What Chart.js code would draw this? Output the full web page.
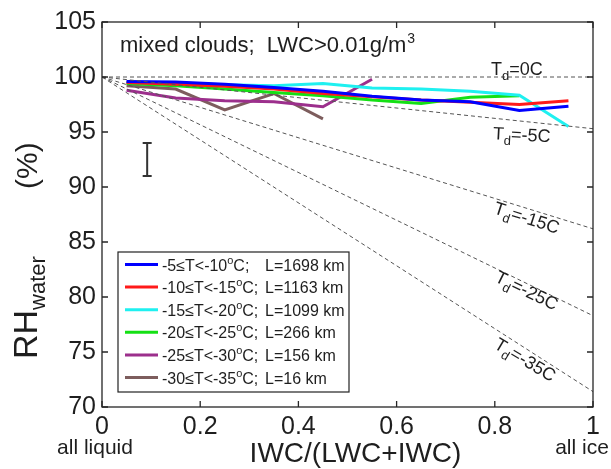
<!DOCTYPE html>
<html><head><meta charset="utf-8">
<script src="https://cdn.jsdelivr.net/npm/chart.js@4"></script>
<style>html,body{margin:0;padding:0;background:#fff;overflow:hidden}#wrap{width:611px;height:469px;position:relative}</style>
</head><body><div id="wrap"><canvas id="c" width="611" height="469"></canvas></div>
<script>
// ---- data ----
const iceFraction = [0.05,0.15,0.25,0.35,0.45,0.55,0.65,0.75,0.85,0.95];
const rhT05_10 = [99.6,99.55,99.35,99.05,98.7,98.25,97.9,97.75,96.95,97.35];
const rhT10_15 = [99.5,99.35,99.15,98.9,98.5,98.2,97.9,97.7,97.5,97.85];
const rhT15_20 = [99.5,99.45,99.3,99.2,99.4,99.0,98.9,98.7,98.35,95.5];
const rhT20_25 = [99.4,99.2,98.9,98.6,98.3,97.9,97.6,98.15,98.3];
const rhT25_30 = [98.8,98.1,97.85,97.75,97.3,99.8];
const rhT30_35 = [99.2,98.9,97.0,98.5,96.2];
const seriesRanges = ['-5\u2264T<-10','-10\u2264T<-15','-15\u2264T<-20','-20\u2264T<-25','-25\u2264T<-30','-30\u2264T<-35'];
const seriesLengths = ['L=1698 km','L=1163 km','L=1099 km','L=266 km','L=156 km','L=16 km'];
const tdNames = ['0C','-5C','-15C','-25C','-35C'];
const tdEndpoints = [0,1];
const tdRhAllLiquid = [100,100,100,100,100];
const tdRhAllIce = [100,95.3,86.2,78.3,71.4];
const xTickValues = [0,0.2,0.4,0.6,0.8,1];
const yTickValues = [70,75,80,85,90,95,100,105];
const errorBarX = 0.092;
const errorBarLow = 91.0;
const errorBarHigh = 94.0;

// ---- styles ----
const FONT = '"Liberation Sans", Arial, Helvetica, sans-serif';
const TEXT = '#1e1e1e';
const seriesColors = ['#0000ff','#ff1a1a','#1ff0f0','#14e014','#9c2f8c','#7d5d5d'];
const seriesData = [rhT05_10,rhT10_15,rhT15_20,rhT20_25,rhT25_30,rhT30_35];
// label placement (data units) and rotation for the Td reference lines
const tdLabelStyle = [
  {x:0.845, y:100.75, rot:0},
  {x:0.855, y:94.75, rot:3},
  {x:0.865, y:87.2, rot:18},
  {x:0.865, y:80.6, rot:26},
  {x:0.862, y:74.3, rot:31}
];

const datasets = [];
tdNames.forEach((n,i)=>{
  datasets.push({
    label:'Td='+n,
    data: tdEndpoints.map((x,k)=>({x:x, y:k===0?tdRhAllLiquid[i]:tdRhAllIce[i]})),
    borderColor:'#555', borderWidth:1, borderDash:[4,3], pointRadius:0, fill:false
  });
});
seriesData.forEach((arr,i)=>{
  datasets.push({
    label: seriesRanges[i],
    data: arr.map((v,k)=>({x:iceFraction[k], y:v})),
    borderColor: seriesColors[i], borderWidth:3, pointRadius:0, fill:false,
    borderJoinStyle:'miter'
  });
});

function fmt(v){ return String(Math.round(v*10)/10); }

const framePlugin = {
  id:'frame',
  afterDatasetsDraw(chart){
    const ctx = chart.ctx, a = chart.chartArea;
    const xs = chart.scales.x, ys = chart.scales.y;
    ctx.save();
    // error bar
    const ex = xs.getPixelForValue(errorBarX);
    const ey1 = ys.getPixelForValue(errorBarLow), ey2 = ys.getPixelForValue(errorBarHigh);
    ctx.strokeStyle = '#333'; ctx.lineWidth = 2;
    ctx.beginPath();
    ctx.moveTo(ex, ey1); ctx.lineTo(ex, ey2);
    ctx.moveTo(ex-4.5, ey1); ctx.lineTo(ex+4.5, ey1);
    ctx.moveTo(ex-4.5, ey2); ctx.lineTo(ex+4.5, ey2);
    ctx.stroke();
    // frame
    ctx.strokeStyle = '#262626'; ctx.lineWidth = 1.3;
    ctx.strokeRect(a.left, a.top, a.right-a.left, a.bottom-a.top);
    ctx.beginPath();
    const tl = 6;
    xTickValues.forEach(v=>{
      const px = xs.getPixelForValue(v);
      ctx.moveTo(px, a.bottom); ctx.lineTo(px, a.bottom-tl);
      ctx.moveTo(px, a.top); ctx.lineTo(px, a.top+tl);
    });
    yTickValues.forEach(v=>{
      const py = ys.getPixelForValue(v);
      ctx.moveTo(a.left, py); ctx.lineTo(a.left+tl, py);
      ctx.moveTo(a.right, py); ctx.lineTo(a.right-tl, py);
    });
    ctx.stroke();
    ctx.restore();
  }
};

function drawSub(ctx, main, sub, rest, x, y, size, subSize, subDy){
  ctx.font = size+'px '+FONT; ctx.fillText(main, x, y);
  let w = ctx.measureText(main).width;
  ctx.font = subSize+'px '+FONT; ctx.fillText(sub, x+w, y+subDy);
  w += ctx.measureText(sub).width;
  ctx.font = size+'px '+FONT; ctx.fillText(rest, x+w, y);
  return w + ctx.measureText(rest).width;
}
function measureSub(ctx, main, sub, rest, size, subSize){
  ctx.font = size+'px '+FONT; let w = ctx.measureText(main).width + ctx.measureText(rest).width;
  ctx.font = subSize+'px '+FONT; w += ctx.measureText(sub).width;
  return w;
}

const textPlugin = {
  id:'texts',
  afterDraw(chart){
    const ctx = chart.ctx, a = chart.chartArea;
    const xs = chart.scales.x, ys = chart.scales.y;
    ctx.save();
    ctx.fillStyle = TEXT; ctx.textBaseline = 'alphabetic'; ctx.textAlign = 'left';
    // title inside plot
    ctx.font = '22px '+FONT;
    const t1 = 'mixed clouds;  LWC>0.01g/m';
    ctx.fillText(t1, 120, 52);
    const w1 = ctx.measureText(t1).width;
    ctx.font = '14px '+FONT; ctx.fillText('3', 120+w1+1, 43);
    // Td labels
    tdNames.forEach((n,i)=>{
      const s = tdLabelStyle[i];
      const px = xs.getPixelForValue(s.x), py = ys.getPixelForValue(s.y);
      ctx.save();
      ctx.translate(px, py); ctx.rotate(s.rot*Math.PI/180);
      const w = measureSub(ctx,'T','d','='+n,18,13);
      ctx.fillStyle = TEXT;
      drawSub(ctx,'T','d','='+n,-w/2,6,18,13,5);
      ctx.restore();
    });
    // legend
    const L = {x:118, y:252, w:231, h:140};
    ctx.fillStyle = '#fff'; ctx.fillRect(L.x, L.y, L.w, L.h);
    ctx.strokeStyle = '#222'; ctx.lineWidth = 1.2; ctx.strokeRect(L.x, L.y, L.w, L.h);
    seriesRanges.forEach((r,i)=>{
      const yy = 264.5 + i*22.6;
      ctx.strokeStyle = seriesColors[i]; ctx.lineWidth = 3;
      ctx.beginPath(); ctx.moveTo(125, yy); ctx.lineTo(158, yy); ctx.stroke();
      ctx.fillStyle = TEXT;
      ctx.font = '16px '+FONT;
      ctx.fillText(r, 162, yy+6);
      let w = ctx.measureText(r).width;
      ctx.font = '11px '+FONT; ctx.fillText('o', 162+w, yy-1);
      w += ctx.measureText('o').width;
      ctx.font = '16px '+FONT; ctx.fillText('C;', 162+w, yy+6);
      ctx.fillText(seriesLengths[i], 265, yy+6);
    });
    // axis titles
    ctx.fillStyle = TEXT;
    ctx.textAlign = 'center';
    ctx.font = '28px '+FONT;
    ctx.fillText('IWC/(LWC+IWC)', (a.left+a.right)/2+8, 462);
    ctx.font = '21px '+FONT;
    ctx.fillText('all liquid', 95, 454);
    ctx.fillText('all ice', 582, 454);
    // y title
    ctx.save();
    ctx.translate(37, 359); ctx.rotate(-Math.PI/2);
    ctx.textAlign = 'left';
    ctx.font = '34px '+FONT; ctx.fillText('RH', 0, 0);
    const wr = ctx.measureText('RH').width;
    ctx.font = '22px '+FONT; ctx.fillText('water', wr, 8);
    ctx.font = '30px '+FONT; ctx.fillText('(%)', 170, 0);
    ctx.restore();
    ctx.restore();
  }
};

new Chart(document.getElementById('c'), {
  type:'line',
  data:{datasets},
  options:{
    responsive:false, animation:false, devicePixelRatio:1,
    layout:{padding:{top:22,right:18,left:0,bottom:0}},
    plugins:{legend:{display:false}, tooltip:{enabled:false}},
    elements:{line:{tension:0}},
    scales:{
      x:{type:'linear', min:0, max:1,
        afterBuildTicks(s){ s.ticks = xTickValues.map(v=>({value:v})); },
        afterFit(s){ s.height = 62; },
        grid:{display:false, drawTicks:false}, border:{display:false},
        ticks:{autoSkip:false, maxRotation:0, padding:5, color:TEXT, font:{family:FONT,size:25}, callback:(v)=>fmt(v)}
      },
      y:{type:'linear', min:70, max:105,
        afterBuildTicks(s){ s.ticks = yTickValues.map(v=>({value:v})); },
        afterFit(s){ s.width = 102; },
        grid:{display:false, drawTicks:false}, border:{display:false},
        ticks:{autoSkip:false, padding:6, color:TEXT, font:{family:FONT,size:25}, callback:(v)=>fmt(v)}
      }
    }
  },
  plugins:[framePlugin, textPlugin]
});
</script></body></html>
